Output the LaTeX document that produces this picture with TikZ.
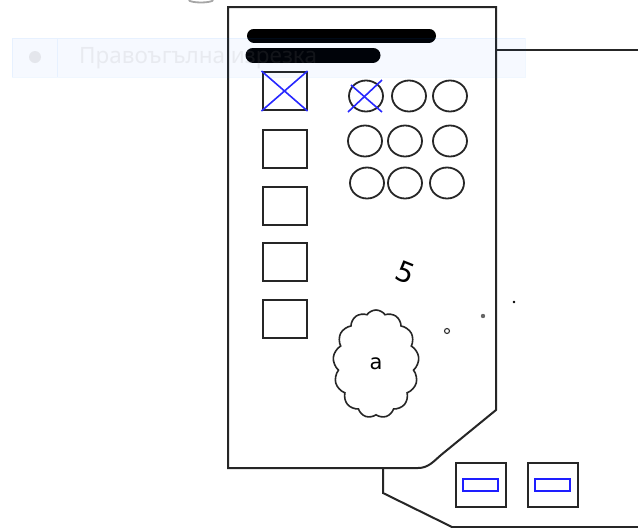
\documentclass[tikz,border=0pt]{standalone}
\usepackage{fontspec}
\setmainfont{DejaVu Sans}
\newfontfamily\bannerfont{Noto Sans}
\usetikzlibrary{shapes.symbols,calc}
\tikzset{
  outline/.style={draw=black!85, line width=2pt},
  chk/.style={draw=black!85, line width=2pt, minimum width=44pt, minimum height=38pt, inner sep=0pt},
  radio/.style={draw=black!85, line width=1.8pt},
  bluex/.style={draw={rgb,255:red,40;green,40;blue,255}, line width=1.6pt},
  bar/.style={line width=14pt, line cap=round, black},
  btn/.style={draw=black!85, line width=2pt, minimum width=50pt, minimum height=44pt, inner sep=0pt},
  btninner/.style={draw={rgb,255:red,30;green,30;blue,255}, line width=2pt, minimum width=35pt, minimum height=12pt, inner sep=0pt},
}
\begin{document}
\begin{tikzpicture}[x=1pt,y=-1pt]
\useasboundingbox (0,0) rectangle (638,528);
\fill[white] (0,0) rectangle (638,528);
% faint gray arc at top
\draw[gray!70, line width=1.8pt] (189,0) arc[start angle=180, end angle=360, x radius=12, y radius=-2.5];
% back panel
\draw[outline] (496,50) -- (638,50);
\draw[outline] (383,468) -- (383,493) -- (452,527) -- (638,527);
% front panel
\draw[outline, fill=white] (228,7) -- (496,7) -- (496,410) -- (441,455) .. controls (433,462) and (428,468) .. (418,468) -- (228,468) -- cycle;
% bars
\draw[bar] (254,35.5) -- (429,35.5);
\draw[bar, line width=15pt] (253,55) -- (373,55);
% checkboxes
\node[chk] (c1) at (284.5,91) {};
\node[chk] (c2) at (284.5,148.5) {};
\node[chk] (c3) at (284.5,205.5) {};
\node[chk] (c4) at (284.5,262) {};
\node[chk] (c5) at (284.5,318.5) {};
\draw[bluex] (c1.north west) -- (c1.south east);
\draw[bluex] (c1.north east) -- (c1.south west);
% radio circles
\foreach \n/\cx/\cy in {r1/366/96, r2/409/96, r3/450/96, r4/365/141, r5/405/141, r6/450/141, r7/367/183, r8/405/183, r9/447/183}{
  \draw[radio] (\cx,\cy) ellipse[x radius=17, y radius=15.5];
  \coordinate (\n) at (\cx,\cy);
}
\draw[bluex] ($(r1)+(-18,16)$) -- ($(r1)+(16,-16)$);
\draw[bluex] ($(r1)+(-15,-11)$) -- ($(r1)+(16,16)$);
% number 5
\node[rotate=-22, font=\fontsize{28}{28}\selectfont, inner sep=0pt] (five) at (406,273) {5};
% cloud
\node[cloud, cloud puffs=13, cloud puff arc=110, aspect=0.75, draw=black!85, line width=1.6pt, minimum width=86pt, minimum height=108pt, inner sep=0pt] (cloud) at (376,364) {};
\node[font=\fontsize{21}{21}\selectfont, inner sep=0pt] (a) at (376,364) {a};
% dots
\draw[black!80, line width=1.1pt] (447,331) circle[radius=2.5];
\fill[black!60] (483,316) circle[radius=2.2];
\fill[black] (514,302) circle[radius=1.4];
% buttons
\node[btn] (b1) at (480.5,485) {};
\node[btn] (b2) at (552.5,485) {};
\node[btninner] at (b1) {};
\node[btninner] at (b2) {};
% faint banner overlay
\fill[blue!60!cyan, fill opacity=0.035] (12,38) rectangle (525,77);
\draw[blue!50!cyan, opacity=0.06] (12,38) rectangle (525,77) (57,38) -- (57,77);
\fill[gray, opacity=0.15] (35,57) circle[radius=6];
\node[anchor=west, text=gray!90, text opacity=0.13, font=\bannerfont\fontsize{22.5}{22.5}\selectfont, inner sep=0pt] (t) at (79,58) {Правоъгълна изрезка};
\end{tikzpicture}
\end{document}
